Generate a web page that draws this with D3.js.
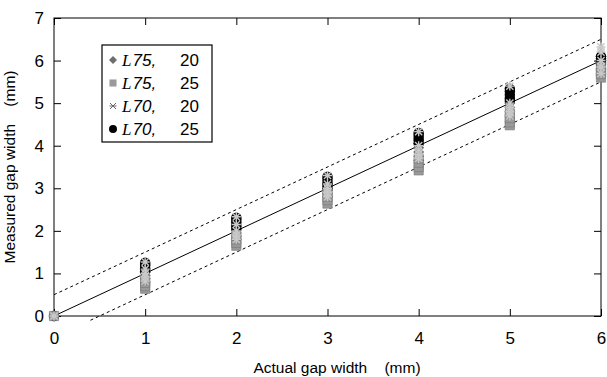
<!DOCTYPE html>
<html><head><meta charset="utf-8">
<script src="https://cdn.jsdelivr.net/npm/d3@7"></script>
<style>body{margin:0;background:#fff}svg{display:block}text{white-space:pre}</style>
</head><body>
<svg id="c" width="607" height="377"></svg>
<script>
const xTicks = [0,1,2,3,4,5,6];
const yTicks = [0,1,2,3,4,5,6,7];
const actual = [0,1,2,3,4,5,6];
// measured values per actual gap width (mm)
const L75_20 = [[0],[0.8,0.88,0.95,1.02,1.1],[1.8,1.88,1.95,2.02,2.1],[2.8,2.88,2.95,3.05,3.1],[3.65,3.75,3.85,3.95,4.05],[4.7,4.8,4.9,5.0,5.1],[5.7,5.8,5.9,6.0,6.1]];
const L75_25 = [[0],[0.64,0.7,0.78,0.85],[1.65,1.72,1.8,1.88],[2.64,2.72,2.8,2.88],[3.42,3.5,3.6,3.7],[4.48,4.55,4.65,4.75],[5.6,5.68,5.75,5.85]];
const L70_20 = [[0],[0.82,0.92,1.0,1.1,1.27],[1.8,1.9,2.0,2.15,2.33],[2.8,2.9,3.0,3.1,3.3],[3.7,3.8,3.9,4.0,4.33],[4.7,4.8,4.9,5.0,5.4],[5.7,5.85,6.0,6.2,6.32]];
const L70_25 = [[0],[1.05,1.12,1.18,1.22,1.25],[2.05,2.12,2.2,2.26,2.31],[3.0,3.08,3.15,3.22,3.27],[4.05,4.12,4.18,4.25,4.3],[5.05,5.12,5.2,5.28,5.34],[5.95,6.0,6.05,6.1]];
const seriesNames = ["L75", "L75", "L70", "L70"];
const seriesNums = ["20", "25", "20", "25"];

const svg = d3.select("#c");
const W = 607, H = 377, m = {l:54, r:6, t:18, b:61};
const x = d3.scaleLinear().domain([0,6]).range([m.l, W-m.r]);
const y = d3.scaleLinear().domain([0,7]).range([H-m.b, m.t]);
const SANS = "Liberation Sans, Arial, sans-serif";

// frame
svg.append("rect").attr("x", x(0)).attr("y", y(7)).attr("width", x(6)-x(0)).attr("height", y(0)-y(7))
  .attr("fill","none").attr("stroke","#000").attr("stroke-width",1);

// axes with inward ticks
const ax = (g, axis) => { g.call(axis); g.select(".domain").remove(); g.selectAll("line").attr("stroke","#000");
  g.selectAll("text").attr("font-family",SANS).attr("font-size",17).attr("fill","#000"); };
svg.append("g").attr("transform",`translate(0,${y(0)})`).call(g=>ax(g, d3.axisBottom(x).tickValues(xTicks).tickSize(-7).tickPadding(16).tickFormat(d3.format("d"))));
svg.append("g").attr("transform",`translate(0,${y(7)})`).call(g=>{ax(g, d3.axisTop(x).tickValues(xTicks).tickSize(-7).tickFormat("")); });
svg.append("g").attr("transform",`translate(${x(0)},0)`).call(g=>ax(g, d3.axisLeft(y).tickValues(yTicks).tickSize(-7).tickPadding(10).tickFormat(d3.format("d"))));
svg.append("g").attr("transform",`translate(${x(6)},0)`).call(g=>ax(g, d3.axisRight(y).tickValues(yTicks).tickSize(-7).tickFormat("")));

// reference lines
const plot = svg.append("g");
const ln = (x1,y1,x2,y2,dash) => plot.append("line").attr("x1",x(x1)).attr("y1",y(y1)).attr("x2",x(x2)).attr("y2",y(y2))
  .attr("stroke","#000").attr("stroke-width",1).attr("stroke-dasharray",dash||null);
ln(0,0,6,6);
ln(0,0.5,6,6.5,"3,3");
ln(0.4,-0.1,6,5.5,"3,3");

// markers
const diamondPath = r => `M0,${-r}L${r},0L0,${r}L${-r},0Z`;
const sym = {
  diamond: diamondPath(5.5),
  square: d3.symbol().type(d3.symbolSquare).size(85)(),
  circle: d3.symbol().type(d3.symbolCircle).size(85)(),
  star: "M-4.5,0H4.5M0,-4.5V4.5M-3.6,-3.6L3.6,3.6M-3.6,3.6L3.6,-3.6"
};
const styles = [
  {data:L75_20, path:sym.diamond, fill:"#6e6e6e", stroke:"none"},
  {data:L75_25, path:sym.square, fill:"#9a9a9a", stroke:"#777"},
  {data:L70_20, path:sym.star, fill:"none", stroke:"#c8c8c8"},
  {data:L70_25, path:sym.circle, fill:"#000", stroke:"none"}
];
const drawOrder = [0,3,1,2];
drawOrder.forEach(i => {
  const s = styles[i];
  const pts = [];
  s.data.forEach((vals, k) => vals.forEach(v => pts.push([actual[k], v])));
  plot.append("g").selectAll("path").data(pts).join("path")
    .attr("d", s.path).attr("transform", d => `translate(${x(d[0])},${y(d[1])})`)
    .attr("fill", s.fill).attr("stroke", s.stroke).attr("stroke-width", i===1 ? 0.6 : 1.4);
});

// legend
const lg = svg.append("g");
lg.append("rect").attr("x",102).attr("y",45).attr("width",110).attr("height",97)
  .attr("fill","#fff").attr("stroke","#000").attr("stroke-width",1.2);
const legendStyles = [
  {path:diamondPath(4), fill:"#6e6e6e", stroke:"none"},
  {path:d3.symbol().type(d3.symbolSquare).size(50)(), fill:"#9a9a9a", stroke:"none"},
  {path:"M-3.5,0H3.5M-3,-3L3,3M-3,3L3,-3", fill:"none", stroke:"#666"},
  {path:d3.symbol().type(d3.symbolCircle).size(50)(), fill:"#000", stroke:"none"}
];
seriesNames.forEach((n,i) => {
  const yy = 60 + i*23;
  lg.append("path").attr("d", legendStyles[i].path).attr("transform",`translate(113,${yy})`)
    .attr("fill",legendStyles[i].fill).attr("stroke",legendStyles[i].stroke).attr("stroke-width",1);
  const t = lg.append("text").attr("x",122).attr("y",yy+6).attr("font-size",17).attr("fill","#000");
  t.append("tspan").attr("font-family","Liberation Serif, Times New Roman, serif").attr("font-style","italic").attr("letter-spacing",1).text("L");
  t.append("tspan").attr("font-family",SANS).attr("font-style","italic").text(n.slice(1) + ",");
  t.append("tspan").attr("x",180).attr("font-family",SANS).text(seriesNums[i]);
});

// axis titles
svg.append("text").attr("x", 337).attr("y", 373).attr("text-anchor","middle")
  .attr("font-family",SANS).attr("font-size",15.5).text("Actual gap width    (mm)");
svg.append("text").attr("transform",`translate(15,${(y(0)+y(7))/2}) rotate(-90)`).attr("text-anchor","middle")
  .attr("font-family",SANS).attr("font-size",15.5).text("Measured gap width    (mm)");
</script>
</body></html>
